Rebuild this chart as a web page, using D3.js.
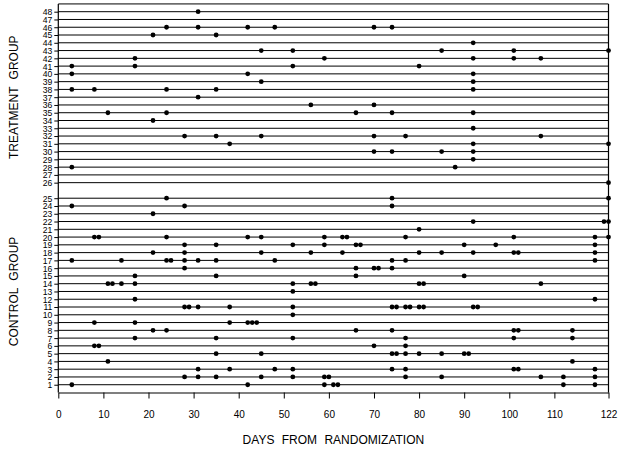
<!DOCTYPE html>
<html>
<head>
<meta charset="utf-8">
<script src="https://cdn.jsdelivr.net/npm/d3@7"></script>
<style>
  body { margin: 0; background: #fff; }
  svg { font-family: "Liberation Sans", Arial, sans-serif; }
</style>
</head>
<body>
<svg id="chart"></svg>
<script>
// event days per subject, control group = subjects 1..25
var controlEvents = [
    [3, 42, 59, 61, 62, 112, 119],                          // 1
    [28, 31, 35, 45, 52, 59, 60, 77, 85, 107, 112, 119],    // 2
    [31, 38, 48, 52, 74, 77, 101, 102, 119],                // 3
    [11, 114],                                              // 4
    [35, 45, 74, 75, 77, 80, 85, 90, 91],                   // 5
    [8, 9, 70, 77],                                         // 6
    [17, 35, 52, 77, 101, 114],                             // 7
    [21, 24, 66, 74, 101, 102, 114],                        // 8
    [8, 17, 38, 42, 43, 44],                                // 9
    [52],                                                   // 10
    [28, 29, 31, 38, 52, 74, 75, 77, 78, 80, 81, 92, 93],   // 11
    [17, 119],                                              // 12
    [52],                                                   // 13
    [11, 12, 14, 17, 52, 56, 57, 80, 81, 107],              // 14
    [17, 35, 66, 90],                                       // 15
    [28, 66, 70, 71, 74],                                   // 16
    [3, 14, 24, 25, 28, 31, 35, 48, 74, 77, 119],           // 17
    [21, 28, 45, 56, 63, 80, 85, 92, 101, 102, 119],        // 18
    [28, 35, 52, 59, 66, 67, 90, 97, 119],                  // 19
    [8, 9, 24, 42, 45, 59, 63, 64, 77, 101, 119, 122],      // 20
    [80],                                                   // 21
    [92, 121, 122],                                         // 22
    [21],                                                   // 23
    [3, 28, 74],                                            // 24
    [24, 74, 122]                                           // 25
];

// treatment group = subjects 26..48
var treatmentEvents = [
    [122],                      // 26
    [],                         // 27
    [3, 88],                    // 28
    [92],                       // 29
    [70, 74, 85, 92],           // 30
    [38, 92, 122],              // 31
    [28, 35, 45, 70, 77, 107],  // 32
    [92],                       // 33
    [21],                       // 34
    [11, 24, 66, 74, 92],       // 35
    [56, 70],                   // 36
    [31],                       // 37
    [3, 8, 24, 35, 92],         // 38
    [45, 92],                   // 39
    [3, 42, 92],                // 40
    [3, 17, 52, 80],            // 41
    [17, 59, 92, 101, 107],     // 42
    [45, 52, 85, 101, 122],     // 43
    [92],                       // 44
    [21, 35],                   // 45
    [24, 31, 42, 48, 70, 74],   // 46
    [],                         // 47
    [31]                        // 48
];

var xTicks = [0, 10, 20, 30, 40, 50, 60, 70, 80, 90, 100, 110, 122];
var groupLabels = ["TREATMENT GROUP", "CONTROL GROUP"];
var xTitle = "DAYS FROM RANDOMIZATION";

var width = 619, height = 454;

var subjects = [];
controlEvents.forEach(function(ev, i) { subjects.push({id: i + 1, pos: i + 1, events: ev}); });
treatmentEvents.forEach(function(ev, i) { subjects.push({id: i + 26, pos: i + 27, events: ev}); });

var svg = d3.select("#chart")
    .attr("width", width)
    .attr("height", height);

var x = d3.scaleLinear().domain([0, 122]).range([58.3, 608.5]);
var y = d3.scaleLinear().domain([0, 49]).range([392.5, 11.7]);

// frame: top and right border
svg.append("line")
    .attr("x1", x(0)).attr("x2", x(122))
    .attr("y1", y(50)).attr("y2", y(50))
    .attr("stroke", "#000").attr("stroke-width", 1);
svg.append("line")
    .attr("x1", x(122)).attr("x2", x(122))
    .attr("y1", y(50)).attr("y2", y(0))
    .attr("stroke", "#000").attr("stroke-width", 1.2);

// subject lines
svg.append("g").selectAll("line")
    .data(subjects)
    .enter().append("line")
    .attr("x1", x(0)).attr("x2", x(122))
    .attr("y1", function(d) { return y(d.pos); })
    .attr("y2", function(d) { return y(d.pos); })
    .attr("stroke", "#000")
    .attr("stroke-width", 1);

// y axis with subject numbers
var yAxis = d3.axisLeft(y)
    .tickValues(subjects.map(function(d) { return d.pos; }))
    .tickFormat(function(p) { return p <= 25 ? p : p - 1; })
    .tickSize(4)
    .tickPadding(2);
var gy = svg.append("g")
    .attr("transform", "translate(" + x(0) + ",0)")
    .call(yAxis);
gy.select(".domain").remove();
gy.append("line")
    .attr("x1", 0).attr("x2", 0)
    .attr("y1", y(50)).attr("y2", y(0))
    .attr("stroke", "#000").attr("stroke-width", 1.2);
gy.selectAll("text")
    .attr("font-size", 8.6)
    .attr("dy", "0.34em")
    .attr("fill", "#000");

// x axis
var xAxis = d3.axisBottom(x)
    .tickValues(xTicks)
    .tickSize(6)
    .tickPadding(12)
    .tickSizeOuter(0);
var gx = svg.append("g")
    .attr("transform", "translate(0," + y(0) + ")")
    .call(xAxis);
gx.select(".domain").attr("stroke-width", 1.2);
gx.selectAll("text")
    .attr("font-size", 10)
    .attr("fill", "#000");

// event dots
var dots = [];
subjects.forEach(function(s) {
    s.events.forEach(function(t) { dots.push({pos: s.pos, day: t}); });
});
svg.append("g").selectAll("circle")
    .data(dots)
    .enter().append("circle")
    .attr("cx", function(d) { return x(d.day); })
    .attr("cy", function(d) { return y(d.pos); })
    .attr("r", 2.4)
    .attr("fill", "#000");

// titles
svg.append("text")
    .attr("x", (x(0) + x(122)) / 2)
    .attr("y", 444)
    .attr("text-anchor", "middle")
    .attr("font-size", 12)
    .attr("word-spacing", 4)
    .text(xTitle);

var groupCenters = [(y(27) + y(49)) / 2, (y(1) + y(25)) / 2];
groupLabels.forEach(function(lab, i) {
    svg.append("text")
        .attr("transform", "translate(18," + groupCenters[i] + ") rotate(-90)")
        .attr("text-anchor", "middle")
        .attr("font-size", 12)
        .attr("word-spacing", 4)
        .text(lab);
});
</script>
</body>
</html>
